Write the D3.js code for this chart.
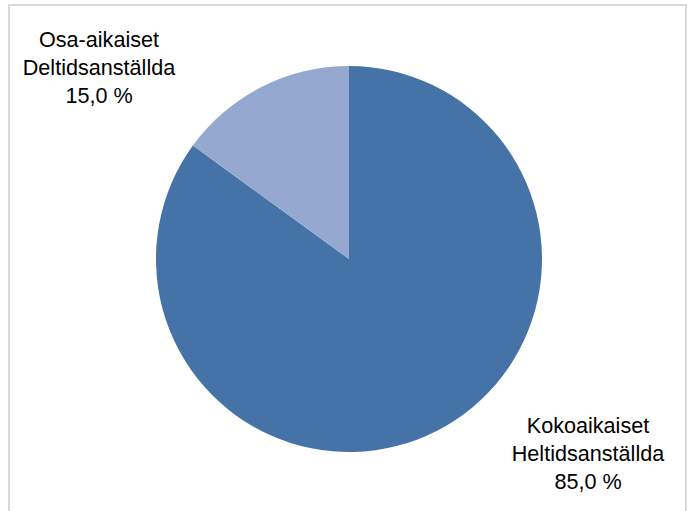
<!DOCTYPE html>
<html>
<head>
<meta charset="utf-8">
<script src="https://cdn.jsdelivr.net/npm/d3@7"></script>
<style>
  html, body { margin: 0; padding: 0; background: #ffffff; }
  svg { display: block; }
</style>
</head>
<body>
<svg id="chart" width="687" height="511"></svg>
<script>
// Employment type shares (percent)
const categories = ["Kokoaikaiset\nHeltidsanställda", "Osa-aikaiset\nDeltidsanställda"];
const values = [85.0, 15.0];
const colors = ["#4573a8", "#95a9d0"];

const width = 687, height = 511;
const svg = d3.select("#chart");

// chart area frame
svg.append("rect")
  .attr("x", 9).attr("y", 5)
  .attr("width", 677).attr("height", 530)
  .attr("fill", "#ffffff")
  .attr("stroke", "#d9d9d9")
  .attr("stroke-width", 2);

const cx = 349, cy = 259, radius = 193;

const pie = d3.pie().sort(null).value(d => d.value).startAngle(0).endAngle(2 * Math.PI);
const arcs = pie(categories.map((c, i) => ({ label: c, value: values[i], color: colors[i] })));
const arc = d3.arc().innerRadius(0).outerRadius(radius);

const g = svg.append("g").attr("transform", `translate(${cx},${cy})`);
g.selectAll("path")
  .data(arcs)
  .join("path")
  .attr("d", arc)
  .attr("fill", d => d.data.color);

// data labels placed outside the pie
const fmt = v => v.toFixed(1).replace(".", ",") + " %";
const labelPos = [
  { x: 588, y: 433 },
  { x: 99, y: 47 }
];
const lineH = 27.8;

arcs.forEach((d, i) => {
  const lines = d.data.label.split("\n").concat([fmt(d.data.value)]);
  const t = svg.append("text")
    .attr("text-anchor", "middle")
    .attr("font-family", "'Liberation Sans', Arial, sans-serif")
    .attr("font-size", 21.6)
    .attr("fill", "#000000");
  lines.forEach((ln, j) => {
    t.append("tspan")
      .attr("x", labelPos[i].x)
      .attr("y", labelPos[i].y + j * lineH)
      .text(ln);
  });
});
</script>
</body>
</html>
